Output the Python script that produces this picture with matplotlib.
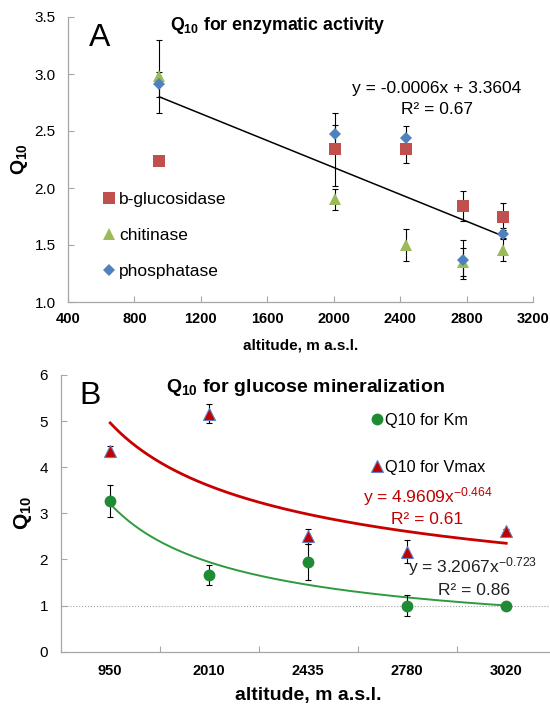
import numpy as np
import matplotlib
matplotlib.use("Agg")
import matplotlib.pyplot as plt

plt.rcParams['font.family'] = ['Liberation Sans', 'DejaVu Sans']
plt.rcParams['mathtext.fontset'] = 'custom'
plt.rcParams['mathtext.rm'] = 'Liberation Sans'
plt.rcParams['mathtext.bf'] = 'Liberation Sans:bold'
plt.rcParams['mathtext.it'] = 'Liberation Sans:italic'
plt.rcParams['mathtext.default'] = 'regular'

# ---------------- Panel A data ----------------
alt_a = [950, 2010, 2435, 2780, 3020]
bglu = [2.24, 2.34, 2.34, 1.84, 1.75]
bglu_err = [0.0, 0.32, 0.12, 0.13, 0.12]
chit = [2.98, 1.90, 1.50, 1.35, 1.46]
chit_err = [0.32, 0.09, 0.14, 0.12, 0.10]
phos = [2.91, 2.47, 2.44, 1.37, 1.60]
phos_err = [0.11, 0.08, 0.10, 0.17, 0.05]
trend_slope = -0.00059
trend_intercept = 3.36
a_xticks = [400, 800, 1200, 1600, 2000, 2400, 2800, 3200]
a_yticks = [1.0, 1.5, 2.0, 2.5, 3.0, 3.5]

# ---------------- Panel B data ----------------
alt_b = ['950', '2010', '2435', '2780', '3020']
km = [3.27, 1.67, 1.95, 1.00, 1.00]
km_err = [0.34, 0.22, 0.39, 0.23, 0.03]
vmax = [4.35, 5.16, 2.50, 2.17, 2.62]
vmax_err = [0.12, 0.21, 0.16, 0.25, 0.05]
km_coef, km_exp = 3.2067, -0.723
vmax_coef, vmax_exp = 4.9609, -0.464
b_yticks = [0, 1, 2, 3, 4, 5, 6]

W, H = 550, 706
fig = plt.figure(figsize=(W / 100, H / 100), dpi=100)


def fx(x):
    return x / W


def fy(y):
    return 1 - y / H


SPINE = '#A6A6A6'
RED_A, GREEN_A, BLUE_A = '#C0504D', '#9BBB59', '#4F81BD'


def style_axes(ax):
    for s in ['top', 'right']:
        ax.spines[s].set_visible(False)
    for s in ['left', 'bottom']:
        ax.spines[s].set_color(SPINE)
        ax.spines[s].set_linewidth(0.9)


def errbars(ax, x, y, e, **kw):
    x = np.asarray(x, dtype=float)
    y = np.asarray(y, dtype=float)
    e = np.asarray(e, dtype=float)
    m = e > 0
    ax.errorbar(x[m], y[m], yerr=e[m], fmt='none', ecolor='black',
                elinewidth=0.8, capsize=2.2, capthick=0.8, zorder=2, **kw)


# ================= Panel A =================
axA = fig.add_axes([fx(68), fy(302), fx(533) - fx(68), fy(17) - fy(302)])
style_axes(axA)

errbars(axA, alt_a, bglu, bglu_err)
errbars(axA, alt_a, chit, chit_err)
errbars(axA, alt_a, phos, phos_err)

tx = np.array([alt_a[0], alt_a[-1]], dtype=float)
axA.plot(tx, trend_slope * tx + trend_intercept, color='black', lw=1.1, zorder=2.5)

hb, = axA.plot(alt_a, bglu, 's', color=RED_A, ms=8, mew=0, zorder=3, label='b-glucosidase')
hc, = axA.plot(alt_a, chit, '^', color=GREEN_A, ms=8, mew=0, zorder=3, label='chitinase')
hp, = axA.plot(alt_a, phos, 'D', color=BLUE_A, ms=6.5, mew=0, zorder=3, label='phosphatase')

axA.set_xlim(400, 3200)
axA.set_ylim(1.0, 3.5)
axA.set_xticks(a_xticks)
axA.set_yticks(a_yticks)
axA.set_yticklabels([f'{v:.1f}' for v in a_yticks])
axA.tick_params(axis='x', direction='in', length=4, width=0.8, color=SPINE, pad=7, labelsize=10.5)
axA.tick_params(axis='y', direction='in', length=4, width=0.8, color=SPINE, pad=9, labelsize=11)
for lab in axA.get_xticklabels():
    lab.set_fontweight('bold')

axA.set_xlabel('altitude, m a.s.l.', fontsize=11, fontweight='bold')
axA.xaxis.label.set_va('center')
axA.xaxis.set_label_coords(0.5, (302 - 345) / 285)
axA.set_ylabel(r'Q$_{\mathbf{10}}$', fontsize=14, fontweight='bold')
axA.yaxis.label.set_va('center')
axA.yaxis.set_label_coords((20 - 68) / 465, 0.5)

legA = axA.legend(handles=[hb, hc, hp], loc='upper left', frameon=False,
                  bbox_to_anchor=(fx(104), fy(192)), bbox_transform=fig.transFigure,
                  fontsize=12.5, handlelength=0.6, handletextpad=0.25,
                  labelspacing=1.2, borderpad=0, borderaxespad=0)

fig.text(fx(99.6), fy(46), 'A', fontsize=23, ha='center', va='baseline')
fig.text(fx(278), fy(30), r'Q$_{\mathbf{10}}$ for enzymatic activity', fontsize=12.8,
         fontweight='bold', ha='center', va='baseline')
fig.text(fx(437), fy(93.5), 'y = -0.0006x + 3.3604', fontsize=12.5, ha='center', va='baseline')
fig.text(fx(437), fy(113.5), 'R\u00b2 = 0.67', fontsize=12.5, ha='center', va='baseline')

# ================= Panel B =================
axB = fig.add_axes([fx(60.7), fy(651.7), fx(555.7) - fx(60.7), fy(375) - fy(651.7)])
style_axes(axB)

xb = np.arange(len(alt_b))
axB.axhline(1, color='#A0A0A0', ls=':', lw=0.8, zorder=1)

xs = np.linspace(0, len(alt_b) - 1, 300)
axB.plot(xs, vmax_coef * (xs + 1) ** vmax_exp, color='#C80000', lw=2.0, zorder=2)
axB.plot(xs, km_coef * (xs + 1) ** km_exp, color='#2E9A3E', lw=1.4, zorder=2)

errbars(axB, xb, km, km_err)
errbars(axB, xb, vmax, vmax_err)

hk, = axB.plot(xb, km, 'o', color='#1F8B35', ms=8.5, mew=0, zorder=3, label='Q10 for Km')
hv, = axB.plot(xb, vmax, '^', color='#C00000', mec='#6680C0', mew=0.8, ms=8, zorder=3,
               label='Q10 for Vmax')

axB.set_xlim(-0.5, len(alt_b) - 0.5)
axB.set_ylim(0, 6)
axB.set_yticks(b_yticks)
axB.set_xticks(np.arange(len(alt_b)) + 0.5)
axB.set_xticklabels([])
axB.set_xticks(xb, minor=True)
axB.set_xticklabels(alt_b, minor=True, fontweight='bold', fontsize=10.5)
axB.tick_params(axis='x', which='major', direction='in', length=4, width=0.8, color=SPINE)
axB.tick_params(axis='x', which='minor', length=0, pad=9)
axB.tick_params(axis='y', direction='in', length=4, width=0.8, color=SPINE, pad=9, labelsize=11)

axB.set_xlabel('altitude, m a.s.l.', fontsize=14, fontweight='bold')
axB.xaxis.label.set_va('center')
axB.xaxis.set_label_coords(0.5, (651.7 - 695.5) / 276.7)
axB.set_ylabel(r'Q$_{\mathbf{10}}$', fontsize=15, fontweight='bold')
axB.yaxis.label.set_va('center')
axB.yaxis.set_label_coords((23 - 60.7) / 495, 0.5)

legB = axB.legend(handles=[hk, hv], loc='upper left', frameon=False,
                  bbox_to_anchor=(fx(372), fy(413)), bbox_transform=fig.transFigure,
                  fontsize=11.7, handlelength=0.63, handletextpad=0.2,
                  labelspacing=1.95, borderpad=0, borderaxespad=0)

fig.text(fx(90.4), fy(404), 'B', fontsize=23, ha='center', va='baseline')
fig.text(fx(305), fy(391.5), r'Q$_{\mathbf{10}}$ for glucose mineralization', fontsize=14,
         fontweight='bold', ha='center', va='baseline')
fig.text(fx(428), fy(502), r'y = 4.9609x$^{-0.464}$', fontsize=12.5, color='#C00000',
         ha='center', va='baseline')
fig.text(fx(427), fy(524.5), 'R\u00b2 = 0.61', fontsize=12.5, color='#C00000',
         ha='center', va='baseline')
fig.text(fx(473), fy(572), r'y = 3.2067x$^{-0.723}$', fontsize=12.5, color='#222222',
         ha='center', va='baseline')
fig.text(fx(473.5), fy(595), 'R\u00b2 = 0.86', fontsize=12.5, color='#222222',
         ha='center', va='baseline')

fig.savefig('out.png', dpi=100)
